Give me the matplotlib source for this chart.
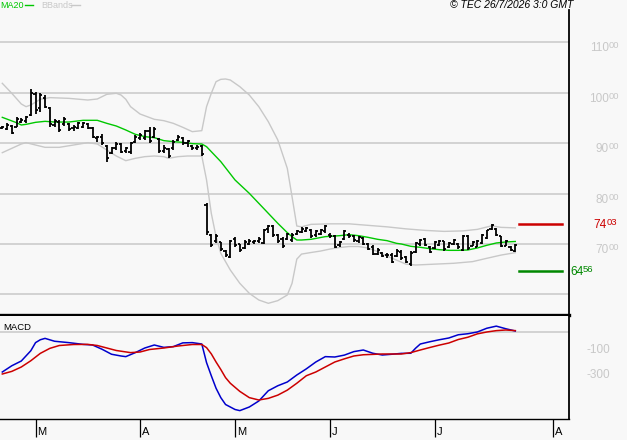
import matplotlib
matplotlib.use("Agg")
import matplotlib.pyplot as plt
from matplotlib.transforms import offset_copy
import numpy as np

plt.rcParams['font.family'] = ['Liberation Sans', 'DejaVu Sans']

# daily bars
highs = [9341, 9394, 9361, 9513, 9493, 9540, 10069, 10009, 9990, 9956,
         9712, 9474, 9460, 9513, 9394, 9361, 9427, 9427, 9407, 9328,
         9150, 9176, 8964, 8931, 9031, 9011, 8931, 9031, 9163, 9196,
         9262, 9315, 9328, 9097, 8964, 8898, 9064, 9163, 9117, 9064,
         8964, 8964, 8964, 7820, 7198, 7198, 7046, 6881, 7079, 7132,
         7000, 7079, 7093, 7079, 7146, 7291, 7377, 7377, 7198, 7146,
         7225, 7225, 7278, 7331, 7331, 7291, 7278, 7291, 7377, 7212,
         7179, 7066, 7278, 7212, 7179, 7159, 7146, 7013, 6980, 6914,
         6848, 6815, 6815, 6895, 6887, 6756, 6855, 7040, 7106, 7119,
         6954, 7053, 7086, 7066, 7040, 7106, 7020, 7172, 7185, 7053,
         7086, 7198, 7284, 7397, 7317, 7152, 7086, 6954, 7000]
lows = [9275, 9262, 9176, 9315, 9394, 9407, 9540, 9579, 9626, 9692,
        9315, 9328, 9229, 9341, 9249, 9242, 9275, 9295, 9275, 9097,
        9031, 8964, 8634, 8786, 8865, 8799, 8812, 8786, 8997, 9064,
        9064, 9011, 9097, 8812, 8812, 8700, 8865, 9051, 8964, 8931,
        8865, 8865, 8746, 7179, 6934, 7013, 6868, 6749, 6716, 6947,
        6848, 6894, 6980, 7000, 7026, 7000, 7212, 7146, 7026, 6914,
        7079, 7046, 7179, 7212, 7244, 7113, 7146, 7179, 7212, 7113,
        6914, 6947, 7079, 7113, 7046, 7026, 6980, 6881, 6782, 6782,
        6749, 6716, 6617, 6749, 6689, 6623, 6558, 6821, 6954, 6954,
        6821, 6907, 6954, 6867, 6921, 6974, 6907, 6855, 6887, 6954,
        6934, 7000, 7106, 7284, 7152, 6934, 6954, 6855, 6841]
opens = [9300, 9290, 9340, 9330, 9420, 9440, 9560, 9980, 9700, 9900,
         9700, 9360, 9420, 9380, 9380, 9300, 9300, 9320, 9380, 9300,
         9100, 9130, 8950, 8800, 8900, 8980, 8850, 8820, 9020, 9100,
         9100, 9250, 9120, 9080, 8850, 8880, 8900, 9070, 9100, 9000,
         8950, 8900, 8940, 7780, 7180, 7050, 7030, 6860, 6750, 7100,
         6990, 6920, 7000, 7030, 7050, 7020, 7300, 7350, 7180, 7100,
         7100, 7080, 7200, 7230, 7260, 7270, 7170, 7200, 7250, 7180,
         7150, 6980, 7100, 7180, 7150, 7060, 7120, 7000, 6950, 6800,
         6830, 6780, 6780, 6760, 6850, 6740, 6600, 6850, 7000, 7100,
         6940, 6920, 6980, 7050, 6940, 7000, 7000, 6880, 7160, 6970,
         6950, 7020, 7120, 7300, 7300, 7150, 6970, 6940, 6870]
closes = [9320, 9370, 9200, 9490, 9470, 9520, 10000, 9650, 9950, 9720,
          9380, 9440, 9260, 9480, 9290, 9330, 9400, 9400, 9300, 9120,
          9120, 9000, 8700, 8900, 8990, 8830, 8900, 9000, 9130, 9170,
          9240, 9050, 9290, 8850, 8900, 8750, 9030, 9130, 9000, 9040,
          8900, 8930, 8780, 7230, 6980, 7150, 6900, 6780, 7050, 6980,
          6880, 7040, 7060, 7060, 7100, 7270, 7350, 7180, 7050, 6960,
          7200, 7180, 7250, 7300, 7310, 7150, 7260, 7270, 7350, 7150,
          6950, 7040, 7250, 7150, 7080, 7130, 7000, 6900, 6800, 6880,
          6770, 6790, 6650, 6870, 6720, 6650, 6830, 7020, 7080, 6980,
          6850, 7030, 7060, 6900, 7010, 7080, 6950, 7150, 6920, 7030,
          7060, 7180, 7270, 7380, 7180, 6960, 7060, 6880, 6980]

# indicators (bar index -> value)
ma20_idx = [0, 3, 4, 5, 7, 9, 11, 14, 17, 20, 22, 24, 26, 28, 30, 32, 34, 36, 38, 40,
            42, 43, 46, 49, 52, 55, 58, 60, 61, 62, 63, 65, 68, 71, 73, 75, 77, 79, 81,
            83, 84, 86, 88, 90, 92, 94, 96, 98, 100, 102, 104, 106, 108]
ma20_val = [9513, 9407, 9361, 9374, 9414, 9434, 9420, 9420, 9454, 9454, 9394, 9341,
            9262, 9176, 9130, 9110, 9051, 9031, 9017, 8991, 8984, 8931, 8634, 8270,
            8005, 7708, 7410, 7225, 7146, 7079, 7079, 7093, 7146, 7165, 7185, 7165,
            7132, 7093, 7066, 7013, 7000, 6954, 6934, 6907, 6887, 6874, 6874, 6881,
            6921, 6974, 7020, 7040, 7050]
bb_up_idx = [0, 2, 4, 5, 6, 8, 10, 14, 18, 20, 22, 24, 25, 26, 27, 29, 32, 34, 36, 38,
             40, 42, 43, 44, 45, 46, 47, 48, 49, 50, 52, 54, 56, 58, 60, 61, 62, 63, 65,
             69, 73, 77, 81, 85, 89, 93, 97, 100, 103, 105, 108]
bb_up_val = [10188, 9990, 9778, 9725, 9758, 9871, 9904, 9890, 9857, 9877, 9970, 9990,
             9956, 9871, 9725, 9579, 9474, 9447, 9394, 9315, 9229, 9249, 9725, 9990,
             10221, 10267, 10274, 10254, 10188, 10122, 9956, 9725, 9427, 9064, 8501,
             7939, 7357, 7340, 7390, 7400, 7400, 7370, 7340, 7300, 7270, 7250, 7260,
             7290, 7360, 7330, 7320]
bb_lo_idx = [0, 2, 4, 5, 7, 9, 12, 15, 18, 20, 22, 24, 26, 28, 30, 32, 34, 35, 37, 39,
             42, 43, 44, 45, 46, 48, 50, 52, 54, 56, 58, 60, 61, 62, 63, 65, 67, 69, 71,
             73, 75, 77, 79, 81, 83, 85, 87, 91, 95, 99, 102, 105, 108]
bb_lo_val = [8812, 8898, 8984, 9011, 8964, 8918, 8918, 8964, 9011, 8984, 8865, 8746,
             8653, 8700, 8733, 8746, 8733, 8700, 8733, 8746, 8746, 8270, 7608, 7146,
             6815, 6484, 6220, 6021, 5889, 5823, 5876, 5988, 6220, 6700, 6800, 6831,
             6860, 6900, 6930, 6950, 6950, 6920, 6850, 6760, 6680, 6600, 6583, 6600,
             6617, 6650, 6716, 6780, 6828]

macd_idx = [0, 2, 4, 6, 7, 8, 9, 11, 14, 17, 19, 21, 23, 25, 26, 28, 30, 32, 34, 36,
            38, 40, 42, 43, 44, 45, 46, 47, 49, 50, 52, 54, 56, 58, 60, 62, 64, 66, 68,
            70, 72, 74, 76, 78, 80, 82, 84, 86, 87, 88, 90, 92, 94, 96, 98, 100, 102,
            104, 106, 108]
macd_val = [-320, -270, -232, -150, -85, -62, -51, -74, -85, -99, -104, -138, -178,
            -192, -197, -165, -128, -104, -123, -117, -87, -85, -96, -245, -350, -450,
            -525, -580, -620, -629, -600, -552, -470, -430, -400, -344, -295, -240,
            -197, -200, -185, -157, -144, -170, -184, -178, -171, -170, -130, -96,
            -78, -62, -48, -22, -14, 0, 30, 47, 26, 8]
sig_idx = [0, 2, 4, 6, 8, 10, 12, 15, 18, 20, 22, 24, 27, 29, 31, 34, 37, 40, 42, 43,
           44, 45, 46, 47, 48, 50, 52, 54, 56, 58, 60, 62, 64, 66, 68, 70, 72, 74, 76,
           80, 84, 86, 88, 90, 92, 94, 96, 98, 100, 102, 104, 106, 108]
sig_val = [-336, -315, -280, -230, -171, -131, -108, -100, -99, -108, -128, -148,
           -165, -160, -140, -128, -112, -100, -100, -125, -175, -240, -300, -365,
           -410, -475, -525, -544, -531, -505, -465, -410, -350, -320, -280, -240,
           -215, -192, -182, -176, -176, -165, -144, -124, -105, -88, -60, -42, -15,
           0, 11, 16, 11]

resistance = 7403
support = 6456
price_grid = [6000, 7000, 8000, 9000, 10000, 11000]
price_labels = [7000, 8000, 9000, 10000, 11000]
macd_labels = [-100, -300]
month_pos = [7, 29, 49, 69, 91, 116]
month_names = ['M', 'A', 'M', 'J', 'J', 'A']

W, H = 627, 440
bg = '#f8f8f8'
grey = '#c8c8c8'

fig = plt.figure(figsize=(W / 100, H / 100), dpi=100, facecolor=bg)

def box(x0, y0, x1, y1):
    return [x0 / W, 1 - y1 / H, (x1 - x0) / W, (y1 - y0) / H]

step = 4.75
xlim = (-2.3 / step, (569 - 2.3) / step)

ax = fig.add_axes(box(0, 10, 569, 315))
ax.set_facecolor(bg)
ax.set_xlim(*xlim)
ax.set_ylim(5591, 11643)
for y in price_grid:
    ax.axhline(y, color=grey, lw=1.1, zorder=0)

x = np.arange(len(highs))
ax.plot(bb_up_idx, bb_up_val, color=grey, lw=1.0)
ax.plot(bb_lo_idx, bb_lo_val, color=grey, lw=1.0)
ax.plot(ma20_idx, ma20_val, color='#00c800', lw=1.0)
ax.vlines(x, lows, highs, colors='black', lw=1.3)
ax.hlines(opens, x - 0.45, x, colors='black', lw=1.3)
ax.hlines(closes, x, x + 0.45, colors='black', lw=1.3)

ax.axhline(resistance, xmin=519 / 569, xmax=562 / 569, color='#cc0000', lw=1.8)
ax.axhline(support, xmin=519 / 569, xmax=562 / 569, color='#008800', lw=1.8)

ax.set_xticks([])
ax.set_yticks([])
for s in ['left', 'top']:
    ax.spines[s].set_visible(False)
ax.spines['right'].set_color('black')
ax.spines['right'].set_linewidth(1.3)
ax.spines['bottom'].set_color('black')
ax.spines['bottom'].set_linewidth(2.4)


def price_text(axis, v, x_px, dy, color, align='right'):
    # whole part in normal size, last two digits smaller, tops aligned
    whole, frac = '%d' % (v // 100), '%02d' % (v % 100)
    tr = axis.get_yaxis_transform()
    base = dy - 4
    if align == 'right':
        t_frac = offset_copy(tr, fig=fig, x=0, y=base + 3, units='dots')
        t_whole = offset_copy(tr, fig=fig, x=-10, y=base, units='dots')
        axis.text(x_px / 569, v, frac, transform=t_frac, ha='right', va='baseline',
                  fontsize=6.8, color=color, clip_on=False)
        axis.text(x_px / 569, v, whole, transform=t_whole, ha='right', va='baseline',
                  fontsize=8.5, color=color, clip_on=False)
    else:
        t_whole = offset_copy(tr, fig=fig, x=0, y=base, units='dots')
        t_frac = offset_copy(tr, fig=fig, x=13, y=base + 3, units='dots')
        axis.text(x_px / 569, v, whole, transform=t_whole, ha='left', va='baseline',
                  fontsize=8.5, color=color, clip_on=False)
        axis.text(x_px / 569, v, frac, transform=t_frac, ha='left', va='baseline',
                  fontsize=6.8, color=color, clip_on=False)


for v in price_labels:
    price_text(ax, v, 619, -5, grey)
price_text(ax, resistance, 617, 0, '#cc0000')
price_text(ax, support, 570, 0, '#008800', align='left')

# MACD panel
ax2 = fig.add_axes(box(0, 316, 569, 419))
ax2.set_facecolor(bg)
ax2.set_xlim(*xlim)
ax2.set_ylim(-696, 128)
ax2.axhline(0, color=grey, lw=1.1, zorder=0)
ax2.plot(macd_idx, macd_val, color='#0000cc', lw=1.1)
ax2.plot(sig_idx, sig_val, color='#cc0000', lw=1.1)
for s in ['left', 'top']:
    ax2.spines[s].set_visible(False)
ax2.spines['right'].set_linewidth(1.3)
ax2.spines['bottom'].set_linewidth(1.0)
ax2.set_yticks([])
ax2.set_xticks(month_pos)
ax2.set_xticklabels([])
ax2.tick_params(axis='x', direction='out', length=13, width=0.9, color='black')

ytr2 = offset_copy(ax2.get_yaxis_transform(), fig=fig, y=-5, units='dots')
for v in macd_labels:
    ax2.text(610 / 569, v, '%d' % v, transform=ytr2, ha='right', va='center',
             fontsize=8.5, color=grey, clip_on=False)
ax2.text(3 / 569, 1 - 11 / 103, 'MACD', transform=ax2.transAxes, ha='left',
         va='center', fontsize=6.8, color='black')

xtr = offset_copy(ax2.get_xaxis_transform(), fig=fig, x=2, units='dots')
for p, name in zip(month_pos, month_names):
    ax2.text(p, -18 / 103, name, transform=xtr, ha='left', va='bottom',
             fontsize=8, color='black', clip_on=False)

# header
fig.text(0 / W, 1 - 5 / H, 'MA20', color='#00c800', fontsize=6.5, ha='left', va='center')
fig.add_artist(plt.Line2D([25 / W, 33 / W], [1 - 5 / H] * 2, color='#00c800', lw=1.0))
fig.text(41 / W, 1 - 5 / H, 'BBands', color=grey, fontsize=6.5, ha='left', va='center')
fig.add_artist(plt.Line2D([71 / W, 80 / W], [1 - 5 / H] * 2, color=grey, lw=1.0))
fig.text(573 / W, 1 - 5 / H, '\u00a9 TEC 26/7/2026 3:0 GMT', color='black',
         fontsize=7.5, style='italic', ha='right', va='center')

fig.savefig('out.png', dpi=100, facecolor=bg)
